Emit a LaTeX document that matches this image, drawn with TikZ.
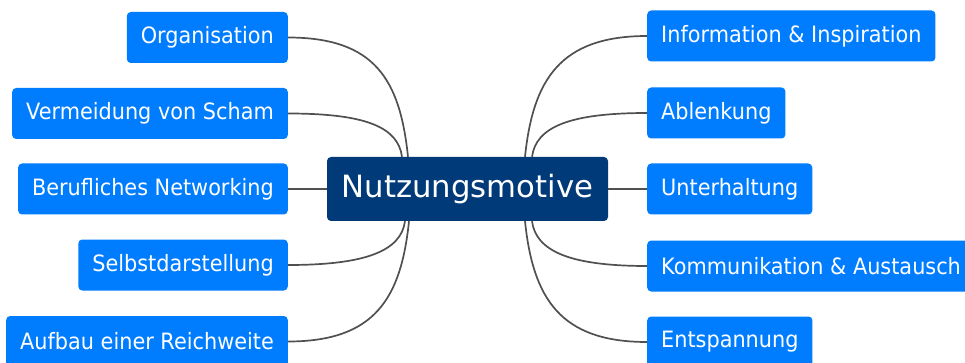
\documentclass[tikz,border=0pt]{standalone}
\usepackage{fontspec}
\setmainfont{DejaVu Sans}
\newfontfamily\leaffont{DejaVu Sans}[FakeStretch=0.925]
\usetikzlibrary{calc}
\definecolor{leafblue}{RGB}{0,125,255}
\definecolor{rootnavy}{RGB}{0,58,120}
\definecolor{linkgray}{RGB}{80,80,80}
\begin{document}
\begin{tikzpicture}[x=1pt,y=-1pt,
  leaf/.style={rectangle, rounded corners=4pt, fill=leafblue, text=white,
    font=\leaffont\fontsize{22.5}{26}\selectfont, minimum height=51pt,
    inner xsep=14pt, inner ysep=0pt},
  lleaf/.style={leaf, anchor=east},
  rleaf/.style={leaf, anchor=west},
  root/.style={rectangle, rounded corners=4pt, fill=rootnavy, text=white,
    font=\fontsize{30.7}{34}\selectfont, minimum width=281pt, minimum height=64pt,
    inner sep=0pt},
  link/.style={draw=linkgray, line width=1.7pt}]
\useasboundingbox (0,0) rectangle (965,363);

% central topic
\node[root] (c) at (467.5,189) {Nutzungsmotive};

% left branch topics
\node[lleaf] (l1) at (288,37.5) {Organisation};
\node[lleaf] (l2) at (288,113.5) {Vermeidung von Scham};
\node[lleaf] (l3) at (288,189) {Berufliches Networking};
\node[lleaf] (l4) at (288,265) {Selbstdarstellung};
\node[lleaf] (l5) at (288,341.5) {Aufbau einer Reichweite};

% right branch topics
\node[rleaf] (r1) at (647,36) {Information \& Inspiration};
\node[rleaf] (r2) at (647,113) {Ablenkung};
\node[rleaf] (r3) at (647,189) {Unterhaltung};
\node[rleaf] (r4) at (647,266) {Kommunikation \& Austausch};
\node[rleaf] (r5) at (647,342) {Entspannung};

% attachment points on the central topic
\coordinate (tl1) at ($(c.north)+(-59.5,0)$);
\coordinate (tl2) at ($(c.north)+(-65.5,0)$);
\coordinate (bl1) at ($(c.south)+(-62.5,0)$);
\coordinate (bl2) at ($(c.south)+(-58.5,0)$);
\coordinate (tr1) at ($(c.north)+(57.5,0)$);
\coordinate (tr2) at ($(c.north)+(64.5,0)$);
\coordinate (br1) at ($(c.south)+(64.5,0)$);
\coordinate (br2) at ($(c.south)+(57.5,0)$);

% curved branches, left
\draw[link] (l1.east) .. controls ($(l1.east)+(87,0)$) and ($(tl1)+(-8,-77)$) .. (tl1);
\draw[link] (l2.east) .. controls ($(l2.east)+(77,0)$) and ($(tl2)+(-4,-30)$) .. (tl2);
\draw[link] (l3.east) -- (c.west);
\draw[link] (l4.east) .. controls ($(l4.east)+(77,0)$) and ($(bl1)+(-4,30)$) .. (bl1);
\draw[link] (l5.east) .. controls ($(l5.east)+(87,0)$) and ($(bl2)+(-8,77)$) .. (bl2);

% curved branches, right
\draw[link] (r1.west) .. controls ($(r1.west)+(-87,0)$) and ($(tr1)+(8,-77)$) .. (tr1);
\draw[link] (r2.west) .. controls ($(r2.west)+(-77,0)$) and ($(tr2)+(4,-30)$) .. (tr2);
\draw[link] (c.east) -- (r3.west);
\draw[link] (r4.west) .. controls ($(r4.west)+(-77,0)$) and ($(br1)+(4,30)$) .. (br1);
\draw[link] (r5.west) .. controls ($(r5.west)+(-87,0)$) and ($(br2)+(8,77)$) .. (br2);
\end{tikzpicture}
\end{document}
